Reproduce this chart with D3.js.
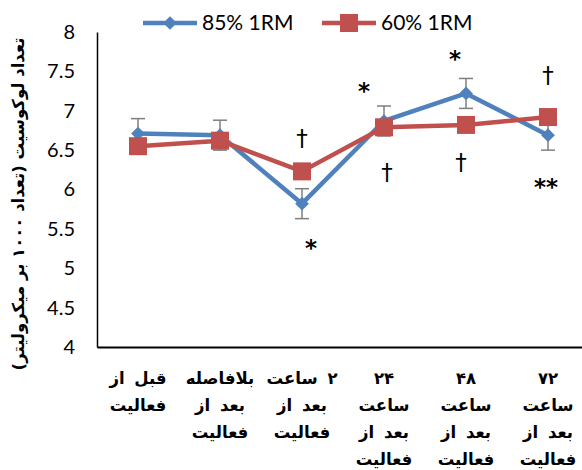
<!DOCTYPE html>
<html>
<head>
<meta charset="utf-8">
<script src="https://cdn.jsdelivr.net/npm/d3@7"></script>
<style>
  body { margin: 0; background: #fff; }
  svg { display: block; }
</style>
</head>
<body>
<svg id="chart" width="582" height="470"></svg>
<script>
// categories (multi-line Persian labels)
const categories = [
  ['قبل از', 'فعالیت'],
  ['بلافاصله', 'بعد از', 'فعالیت'],
  ['۲ ساعت', 'بعد از', 'فعالیت'],
  ['۲۴', 'ساعت', 'بعد از', 'فعالیت'],
  ['۴۸', 'ساعت', 'بعد از', 'فعالیت'],
  ['۷۲', 'ساعت', 'بعد از', 'فعالیت']
];
const high = [6.71, 6.69, 5.82, 6.87, 7.22, 6.69];   // 85% 1RM
const highErr = [0.19, 0.19, 0.19, 0.19, 0.19, 0.19];
const low = [6.55, 6.62, 6.23, 6.79, 6.82, 6.92];    // 60% 1RM
const yTicks = [4, 4.5, 5, 5.5, 6, 6.5, 7, 7.5, 8];
// significance marks: [category index, symbol, y value, x offset px]
const marks = [
  [2, '†', 6.55, 0],
  [2, '*', 5.15, 9],
  [3, '*', 7.15, -20],
  [3, '†', 6.12, 3],
  [4, '*', 7.55, -11],
  [4, '†', 6.25, -5],
  [5, '†', 7.35, 0],
  [5, '**', 5.93, -2]
];

const svg = d3.select('#chart');
const blue = '#4F81BD', red = '#C0504D';

const x = d3.scaleBand().domain(d3.range(categories.length)).range([97, 589]);
const y = d3.scaleLinear().domain([4, 8]).range([347, 32]);
const cx = i => x(i) + x.bandwidth() / 2;

// y axis
const yAxis = svg.append('g').attr('transform', 'translate(97,0)')
  .call(d3.axisLeft(y).tickValues(yTicks).tickSize(0).tickPadding(22).tickFormat(d => d));
yAxis.select('.domain').attr('stroke', '#000').attr('stroke-width', 1.5);
yAxis.selectAll('text').attr('font-family', 'Lato, "Open Sans", sans-serif').attr('font-size', 20).attr('fill', '#000');

// x axis
const xAxis = svg.append('g').attr('transform', 'translate(0,347)')
  .call(d3.axisBottom(x).tickSize(0).tickFormat(''));
xAxis.select('.domain').attr('stroke', '#000').attr('stroke-width', 2);

// x labels
const lab = svg.append('g')
  .selectAll('text')
  .data(categories)
  .join('text')
  .attr('text-anchor', 'middle')
  .attr('font-family', '"DejaVu Sans", sans-serif')
  .attr('font-weight', 'bold')
  .attr('font-size', 16.5)
  .attr('word-spacing', 4)
  .attr('fill', '#000')
  .attr('direction', 'rtl');
lab.each(function (lines, i) {
  d3.select(this).selectAll('tspan')
    .data(lines)
    .join('tspan')
    .attr('x', cx(i))
    .attr('y', (d, j) => 384 + j * 27)
    .text(d => d);
});

// y title
svg.append('text')
  .attr('transform', 'translate(24,204) rotate(-90)')
  .attr('text-anchor', 'middle')
  .attr('font-family', '"DejaVu Sans", sans-serif')
  .attr('font-weight', 'bold')
  .attr('font-size', 16.5)
  .attr('direction', 'rtl')
  .text('تعداد لوکوسیت (تعداد ۱۰۰۰ بر میکرولیتر)');

// error bars (85%)
const eb = svg.append('g').attr('stroke', '#7f7f7f').attr('stroke-width', 1.5);
high.forEach((v, i) => {
  const x0 = cx(i);
  eb.append('line').attr('x1', x0).attr('x2', x0).attr('y1', y(v - highErr[i])).attr('y2', y(v + highErr[i]));
  [v - highErr[i], v + highErr[i]].forEach(e =>
    eb.append('line').attr('x1', x0 - 7).attr('x2', x0 + 7).attr('y1', y(e)).attr('y2', y(e)));
});

const line = d3.line().x((d, i) => cx(i)).y(d => y(d));

svg.append('path').datum(high).attr('d', line)
  .attr('fill', 'none').attr('stroke', blue).attr('stroke-width', 4.5).attr('stroke-linejoin', 'round');
svg.append('g').selectAll('path').data(high).join('path')
  .attr('d', d3.symbol(d3.symbolDiamond2, 120))
  .attr('transform', (d, i) => `translate(${cx(i)},${y(d)})`)
  .attr('fill', blue);

svg.append('path').datum(low).attr('d', line)
  .attr('fill', 'none').attr('stroke', red).attr('stroke-width', 4.5).attr('stroke-linejoin', 'round');
svg.append('g').selectAll('rect').data(low).join('rect')
  .attr('x', (d, i) => cx(i) - 9).attr('y', d => y(d) - 9)
  .attr('width', 18).attr('height', 18)
  .attr('fill', red);

// significance marks
svg.append('g').selectAll('text').data(marks).join('text')
  .attr('x', d => cx(d[0]) + d[3])
  .attr('y', d => y(d[2]))
  .attr('text-anchor', 'middle')
  .attr('font-family', '"DejaVu Sans", sans-serif')
  .attr('font-weight', d => d[1] === '†' ? 'normal' : 'bold')
  .attr('font-size', 23)
  .attr('fill', '#000')
  .text(d => d[1]);

// legend
const legend = [['85% 1RM', blue, 'diamond', 143], ['60% 1RM', red, 'square', 322]];
legend.forEach(([name, c, shape, lx]) => {
  const g = svg.append('g');
  g.append('line').attr('x1', lx).attr('x2', lx + 54).attr('y1', 23).attr('y2', 23)
    .attr('stroke', c).attr('stroke-width', 4.5);
  if (shape === 'diamond') {
    g.append('path').attr('d', d3.symbol(d3.symbolDiamond2, 120))
      .attr('transform', `translate(${lx + 27},23)`).attr('fill', c);
  } else {
    g.append('rect').attr('x', lx + 18).attr('y', 14).attr('width', 18).attr('height', 18).attr('fill', c);
  }
  g.append('text').attr('x', lx + 59).attr('y', 30)
    .attr('font-family', 'Lato, "Open Sans", sans-serif').attr('font-size', 21).attr('fill', '#000')
    .text(name);
});
</script>
</body>
</html>
